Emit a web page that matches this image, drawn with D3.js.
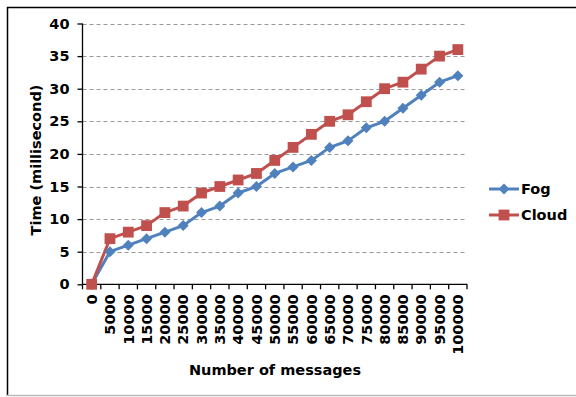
<!DOCTYPE html>
<html><head><meta charset="utf-8">
<script src="https://cdn.jsdelivr.net/npm/d3@7"></script>
<style>body{margin:0;background:#fff;} svg{display:block;} text{font-family:"DejaVu Sans",Verdana,sans-serif;font-weight:bold;fill:#000;}</style>
</head><body>
<svg id="c" width="576" height="397"></svg>
<script>
const categories = ["0","5000","10000","15000","20000","25000","30000","35000","40000","45000","50000","55000","60000","65000","70000","75000","80000","85000","90000","95000","100000"];
const fogValues = [0,5,6,7,8,9,11,12,14,15,17,18,19,21,22,24,25,27,29,31,32];
const cloudValues = [0,7,8,9,11,12,14,15,16,17,19,21,23,25,26,28,30,31,33,35,36];
const yTicks = [0,5,10,15,20,25,30,35,40];
const seriesNames = ["Fog","Cloud"];
const colors = ["#4F81BD","#C0504D"];

const svg = d3.select("#c");
// outer border
svg.append("line").attr("x1",7).attr("x2",576).attr("y1",7.5).attr("y2",7.5).attr("stroke","#000").attr("stroke-width",1.5);
svg.append("line").attr("x1",7.5).attr("x2",7.5).attr("y1",7).attr("y2",396).attr("stroke","#000").attr("stroke-width",1.5);
svg.append("line").attr("x1",7).attr("x2",576).attr("y1",395.5).attr("y2",395.5).attr("stroke","#bbb").attr("stroke-width",1.5);

const L=82.5, R=467, T=23.5, B=284.3;
const x = d3.scaleBand().domain(categories).range([L,R]).padding(0);
const y = d3.scaleLinear().domain([0,40]).range([B,T]);

// gridlines
svg.append("g").selectAll("line").data(yTicks.filter(d=>d>0)).join("line")
  .attr("x1",L).attr("x2",R).attr("y1",d=>Math.round(y(d))+0.5).attr("y2",d=>Math.round(y(d))+0.5)
  .attr("stroke","#999").attr("stroke-width",1).attr("stroke-dasharray","4,3");

// y axis
const yAxis = svg.append("g").attr("transform",`translate(${L},0)`)
  .call(d3.axisLeft(y).tickValues(yTicks).tickSize(5).tickPadding(8));
yAxis.selectAll("path,line").attr("stroke","#000").attr("stroke-width",1.3);
yAxis.select(".domain").attr("d",`M0,${B}V${T}`);
yAxis.selectAll("text").style("font-size","14.5px").style("font-family","DejaVu Sans").style("font-weight","bold");

// x axis
const xAxis = svg.append("g").attr("transform",`translate(0,${B})`)
  .call(d3.axisBottom(x).tickSize(0).tickPadding(0));
xAxis.select(".domain").attr("stroke","#000").attr("stroke-width",1.3).attr("d",`M${L},0H${R}`);
xAxis.selectAll(".tick text")
  .style("font-size","14.5px").style("font-family","DejaVu Sans").style("font-weight","bold")
  .attr("transform","rotate(-90)").attr("text-anchor","end").attr("x",-10).attr("y",0).attr("dy","0.36em");
// tick marks at band boundaries
const bounds = categories.map(c=>x(c)).concat([R]);
svg.append("g").selectAll("line").data(bounds).join("line")
  .attr("x1",d=>d).attr("x2",d=>d).attr("y1",B).attr("y2",B+5).attr("stroke","#000").attr("stroke-width",1.3);

const cx = c => x(c)+x.bandwidth()/2;
const data = [fogValues, cloudValues];
const line = d3.line().x((d,i)=>cx(categories[i])).y(d=>y(d));
data.forEach((vals,si)=>{
  svg.append("path").datum(vals).attr("d",line).attr("fill","none").attr("stroke",colors[si]).attr("stroke-width",3).attr("stroke-linejoin","round");
});
// markers
function marker(g, si){
  if(si===0){
    g.append("path").attr("d","M0,-5.5L5.5,0L0,5.5L-5.5,0Z").attr("fill",colors[0]);
  } else {
    g.append("rect").attr("x",-5.4).attr("y",-5.4).attr("width",10.8).attr("height",10.8).attr("fill",colors[1]);
  }
}
data.forEach((vals,si)=>{
  vals.forEach((v,i)=>{
    const g = svg.append("g").attr("transform",`translate(${cx(categories[i])},${y(v)})`);
    marker(g,si);
  });
});

// axis titles
svg.append("text").attr("transform","translate(41,160) rotate(-90)").attr("text-anchor","middle")
  .style("font-size","14.5px").text("Time (millisecond)");
svg.append("text").attr("x",275).attr("y",375).attr("text-anchor","middle")
  .style("font-size","14.5px").text("Number of messages");

// legend
const legY = [189, 215];
seriesNames.forEach((n,si)=>{
  svg.append("line").attr("x1",489).attr("x2",519).attr("y1",legY[si]).attr("y2",legY[si]).attr("stroke",colors[si]).attr("stroke-width",3);
  const g = svg.append("g").attr("transform",`translate(504,${legY[si]})`);
  marker(g,si);
  svg.append("text").attr("x",521).attr("y",legY[si]).attr("dy","0.36em").style("font-size","14.5px").text(n);
});
</script>
</body></html>
